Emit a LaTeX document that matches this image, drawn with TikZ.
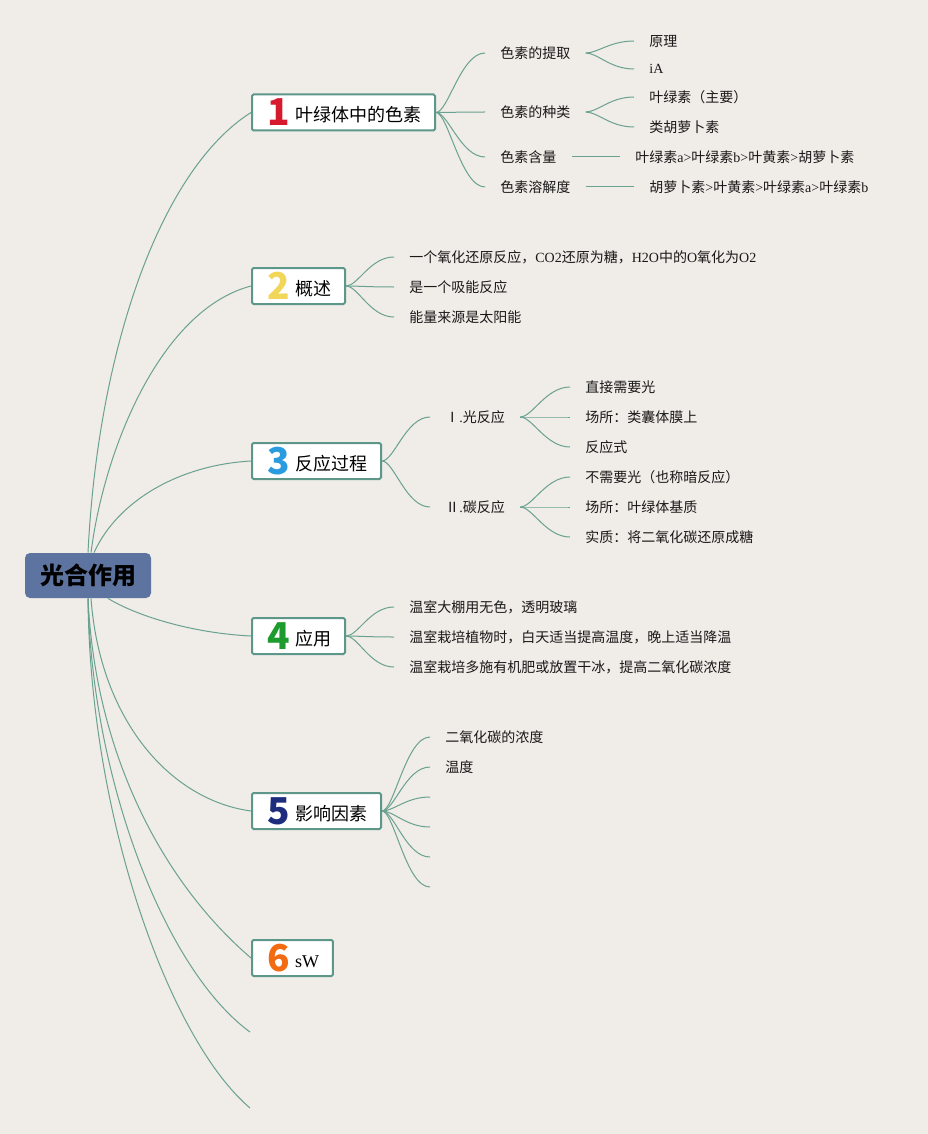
\documentclass[tikz,border=0pt]{standalone}
\usepackage{fontspec}
\setmainfont{Liberation Serif}
\newfontfamily\cjk{Noto Sans CJK SC}

\definecolor{bgcol}{HTML}{F0ECE7}
\definecolor{linkcol}{HTML}{6AA291}
\definecolor{boxcol}{HTML}{5C978A}
\definecolor{rootcol}{HTML}{5E74A0}
\definecolor{numone}{HTML}{D7192D}
\definecolor{numtwo}{HTML}{F2D65A}
\definecolor{numthree}{HTML}{2B9BE0}
\definecolor{numfour}{HTML}{1E9B2E}
\definecolor{numfive}{HTML}{1D2C7C}
\definecolor{numsix}{HTML}{F26A12}

\newcommand\lat[1]{{\rmfamily #1}}
\newcommand\numd[2]{\hspace{4.5pt}\raisebox{-4pt}{\makebox[17pt]{\cjk\bfseries\fontsize{37}{37}\selectfont\textcolor{#1}{#2}}}\hspace{7.5pt}}

\tikzset{every picture/.style={line width=0.75pt}}

\begin{document}
\begin{tikzpicture}[x=1pt,y=1pt,yscale=-1,
  rootbox/.style={fill=rootcol, rounded corners=5pt, minimum width=126pt, minimum height=45pt, inner sep=0pt, font=\cjk\bfseries\fontsize{24}{28}\selectfont, text=black},
  topicbox/.style={draw=boxcol, line width=2pt, fill=white, rounded corners=1.5pt, anchor=west, minimum height=36pt, inner xsep=14pt, inner ysep=2pt, font=\cjk\fontsize{18}{20}\selectfont, text=black},
  leaf/.style={anchor=west, inner xsep=15pt, inner ysep=3pt, font=\cjk\fontsize{14}{16}\selectfont, text=black!90},
  link/.style={draw=linkcol, line width=1pt},
  branch/.style={link, to path={.. controls +(12pt,0) and +(-24pt,0) .. (\tikztotarget)}}]
\useasboundingbox (0,0) rectangle (928,1134);
\fill[bgcol] (0,0) rectangle (928,1134);

%Root
\node[rootbox] (root) at (88,575.5) {光合作用};

%Topics
\node[topicbox] (t1) at (251,112.5) {\numd{numone}{1}叶绿体中的色素};
\node[topicbox] (t2) at (251,286) {\numd{numtwo}{2}概述};
\node[topicbox] (t3) at (251,461) {\numd{numthree}{3}反应过程};
\node[topicbox] (t4) at (251,636) {\numd{numfour}{4}应用};
\node[topicbox] (t5) at (251,811) {\numd{numfive}{5}影响因素};
\node[topicbox] (t6) at (251,958) {\numd{numsix}{6}\lat{sW}};
\coordinate (e7) at (250,1032);
\coordinate (e8) at (250,1108);

%Root links
\draw[link] (root.north) .. controls (98,350) and (160,170) .. (t1.west);
\draw[link] ([xshift=3pt]root.north) .. controls (104,450) and (160,310) .. (t2.west);
\draw[link] ([xshift=6pt]root.north) .. controls (118,500) and (180,465) .. (t3.west);
\draw[link] ([xshift=20pt]root.south) .. controls (135,615) and (190,633) .. (t4.west);
\draw[link] ([xshift=3pt]root.south) .. controls (100,720) and (170,800) .. (t5.west);
\draw[link] (root.south) .. controls (95,750) and (160,880) .. (t6.west);
\draw[link] (root.south) .. controls (92,780) and (165,970) .. (e7);
\draw[link] (root.south) .. controls (90,820) and (170,1040) .. (e8);

%Topic 1
\node[leaf] (c11) at (485,53) {色素的提取};
\node[leaf] (c12) at (485,112) {色素的种类};
\node[leaf] (c13) at (485,157) {色素含量};
\node[leaf] (c14) at (485,187) {色素溶解度};
\node[leaf] (c111) at (634,41) {原理};
\node[leaf] (c112) at (634,69) {\lat{iA}};
\node[leaf] (c121) at (634,97) {叶绿素（主要）};
\node[leaf] (c122) at (634,127) {类胡萝卜素};
\node[leaf] (c131) at (620,157) {叶绿素\lat{a>}叶绿素\lat{b>}叶黄素\lat{>}胡萝卜素};
\node[leaf] (c141) at (634,187) {胡萝卜素\lat{>}叶黄素\lat{>}叶绿素\lat{a>}叶绿素\lat{b}};
\draw[branch] (t1.east) to (c11.west);
\draw[branch] (t1.east) to (c12.west);
\draw[branch] (t1.east) to (c13.west);
\draw[branch] (t1.east) to (c14.west);
\draw[branch] (c11.east) to (c111.west);
\draw[branch] (c11.east) to (c112.west);
\draw[branch] (c12.east) to (c121.west);
\draw[branch] (c12.east) to (c122.west);
\draw[link] (c13.east) -- (c131.west);
\draw[link] (c14.east) -- (c141.west);

%Topic 2
\node[leaf] (c21) at (394,257) {一个氧化还原反应，\lat{CO2}还原为糖，\lat{H2O}中的\lat{O}氧化为\lat{O2}};
\node[leaf] (c22) at (394,287) {是一个吸能反应};
\node[leaf] (c23) at (394,317) {能量来源是太阳能};
\draw[branch] (t2.east) to (c21.west);
\draw[branch] (t2.east) to (c22.west);
\draw[branch] (t2.east) to (c23.west);

%Topic 3
\node[leaf] (c31) at (430,417) {Ⅰ\lat{.}光反应};
\node[leaf] (c32) at (430,507) {Ⅱ\lat{.}碳反应};
\node[leaf] (c311) at (570,387) {直接需要光};
\node[leaf] (c312) at (570,417) {场所：类囊体膜上};
\node[leaf] (c313) at (570,447) {反应式};
\node[leaf] (c321) at (570,477) {不需要光（也称暗反应）};
\node[leaf] (c322) at (570,507) {场所：叶绿体基质};
\node[leaf] (c323) at (570,537) {实质：将二氧化碳还原成糖};
\draw[branch] (t3.east) to (c31.west);
\draw[branch] (t3.east) to (c32.west);
\draw[branch] (c31.east) to (c311.west);
\draw[branch] (c31.east) to (c312.west);
\draw[branch] (c31.east) to (c313.west);
\draw[branch] (c32.east) to (c321.west);
\draw[branch] (c32.east) to (c322.west);
\draw[branch] (c32.east) to (c323.west);

%Topic 4
\node[leaf] (c41) at (394,607) {温室大棚用无色，透明玻璃};
\node[leaf] (c42) at (394,637) {温室栽培植物时，白天适当提高温度，晚上适当降温};
\node[leaf] (c43) at (394,667) {温室栽培多施有机肥或放置干冰，提高二氧化碳浓度};
\draw[branch] (t4.east) to (c41.west);
\draw[branch] (t4.east) to (c42.west);
\draw[branch] (t4.east) to (c43.west);

%Topic 5
\node[leaf] (c51) at (430,737) {二氧化碳的浓度};
\node[leaf] (c52) at (430,767) {温度};
\coordinate (c53) at (430,797);
\coordinate (c54) at (430,827);
\coordinate (c55) at (430,857);
\coordinate (c56) at (430,887);
\draw[branch] (t5.east) to (c51.west);
\draw[branch] (t5.east) to (c52.west);
\draw[branch] (t5.east) to (c53);
\draw[branch] (t5.east) to (c54);
\draw[branch] (t5.east) to (c55);
\draw[branch] (t5.east) to (c56);

\end{tikzpicture}
\end{document}
